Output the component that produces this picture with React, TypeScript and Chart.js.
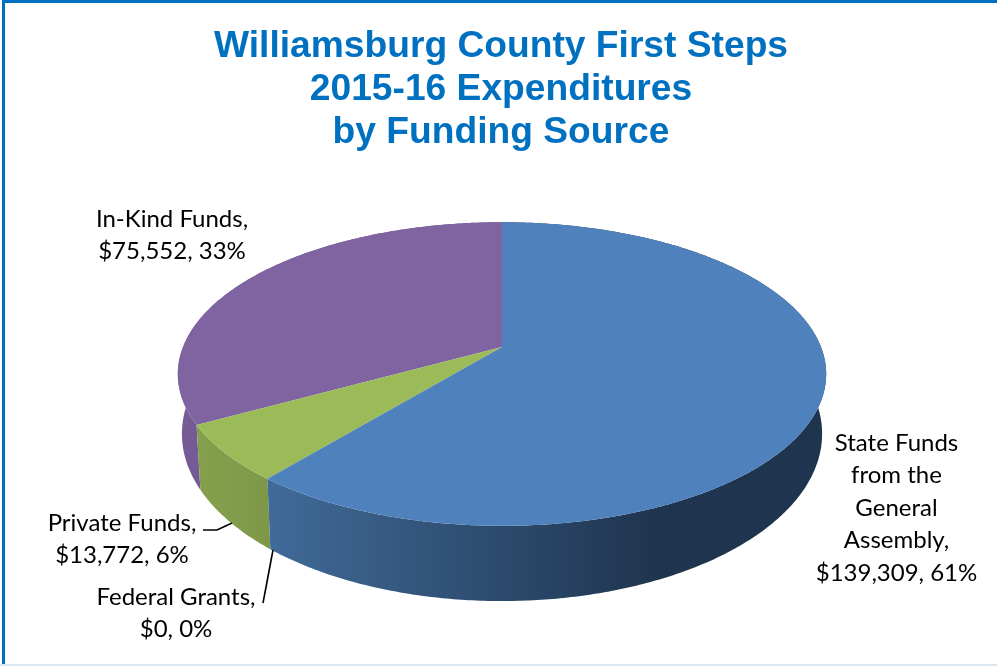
import React, { useEffect, useRef } from "react";
import { Chart, registerables } from "chart.js";

Chart.register(...registerables);

const categories = ["State Funds from the General Assembly", "Federal Grants", "Private Funds", "In-Kind Funds"];
const expenditures = [139309, 0, 13772, 75552];
const percentLabels = ["61%", "0%", "6%", "33%"];
const titleLines = ["Williamsburg County First Steps", "2015-16 Expenditures", "by Funding Source"];
const topColors = ["#4F81BD", "#7F7F7F", "#9BBB59", "#8064A2"];
const sideColorsLeft = ["#406A99", "#666666", "#86A24D", "#765C96"];
const sideColorsRight = ["#1F344E", "#555555", "#7D9748", "#6F5590"];

const money = (n: number) => "$" + n.toLocaleString("en-US");
const labelLines = [
  ["State Funds", "from the", "General", "Assembly,", `${money(expenditures[0])}, ${percentLabels[0]}`],
  ["Federal Grants,", `${money(expenditures[1])}, ${percentLabels[1]}`],
  ["Private Funds,", `${money(expenditures[2])}, ${percentLabels[2]}`],
  ["In-Kind Funds,", `${money(expenditures[3])}, ${percentLabels[3]}`],
];

const labelAnchors = [
  { x: 896.5, y: 443 },
  { x: 176, y: 597 },
  { x: 122, y: 523 },
  { x: 172, y: 219 },
];
const leaders: number[][][] = [
  [],
  [[263, 603], [273, 550]],
  [[203, 530], [217, 530], [232, 523]],
  [],
];

const CX = 502;
const P = 0.178;
const upper = { y0: 347, a: 319, b: 147 };
const lower = { y0: 404, a: 315, b: 162 };

function project(theta: number, f: { y0: number; a: number; b: number }) {
  const u = Math.cos(theta);
  const v = Math.sin(theta);
  const d = 1 - P * v;
  return [CX + (f.a * u) / d, f.y0 + (f.b * v) / d];
}

const pie3d = {
  id: "pie3d",
  beforeDraw(chart: any) {
    const { ctx, width, height } = chart;
    ctx.save();
    ctx.fillStyle = "#FFFFFF";
    ctx.fillRect(0, 0, width, height);
    ctx.fillStyle = "#DCE6F1";
    ctx.fillRect(0, height - 2, width, 2);
    ctx.fillStyle = "#0070C0";
    ctx.fillRect(2, 0, width - 2, 3);
    ctx.fillRect(2, 0, 3, height - 2);
    ctx.restore();
  },
  beforeDatasetsDraw(chart: any) {
    const { ctx } = chart;
    const arcs = chart.getDatasetMeta(0).data;
    const order = [3, 2, 1, 0];
    const stepsFor = (a: number, b: number) => Math.max(2, Math.ceil((b - a) / 0.01));

    ctx.save();
    // sides
    for (const i of order) {
      const { startAngle, endAngle } = arcs[i].getProps(["startAngle", "endAngle"], true);
      if (endAngle - startAngle < 1e-6) continue;
      const n = stepsFor(startAngle, endAngle);
      ctx.beginPath();
      for (let k = 0; k <= n; k++) {
        const [x, y] = project(startAngle + ((endAngle - startAngle) * k) / n, upper);
        if (k === 0) ctx.moveTo(x, y);
        else ctx.lineTo(x, y);
      }
      for (let k = n; k >= 0; k--) {
        const [x, y] = project(startAngle + ((endAngle - startAngle) * k) / n, lower);
        ctx.lineTo(x, y);
      }
      ctx.closePath();
      const g = ctx.createLinearGradient(i === 0 ? 270 : 185, 0, i === 0 ? 660 : 275, 0);
      g.addColorStop(0, sideColorsLeft[i]);
      g.addColorStop(1, sideColorsRight[i]);
      ctx.fillStyle = g;
      ctx.fill();
    }
    // top face
    for (const i of order) {
      const { startAngle, endAngle } = arcs[i].getProps(["startAngle", "endAngle"], true);
      if (endAngle - startAngle < 1e-6) continue;
      const n = stepsFor(startAngle, endAngle);
      ctx.beginPath();
      ctx.moveTo(CX, upper.y0);
      for (let k = 0; k <= n; k++) {
        const [x, y] = project(startAngle + ((endAngle - startAngle) * k) / n, upper);
        ctx.lineTo(x, y);
      }
      ctx.closePath();
      ctx.fillStyle = topColors[i];
      ctx.fill();
    }
    // leader lines
    ctx.strokeStyle = "#000000";
    ctx.lineWidth = 1.6;
    for (const pts of leaders) {
      if (!pts.length) continue;
      ctx.beginPath();
      pts.forEach(([x, y], k) => (k ? ctx.lineTo(x, y) : ctx.moveTo(x, y)));
      ctx.stroke();
    }
    // labels
    ctx.fillStyle = "#000000";
    ctx.font = '24px Lato, "Open Sans", sans-serif';
    ctx.textAlign = "center";
    ctx.textBaseline = "middle";
    labelLines.forEach((lines, i) => {
      lines.forEach((t, k) => ctx.fillText(t, labelAnchors[i].x, labelAnchors[i].y + k * 32.5));
    });
    ctx.restore();
    return false;
  },
};

export default function App() {
  const ref = useRef<HTMLCanvasElement>(null);
  useEffect(() => {
    document.body.style.margin = "0";
    const chart = new Chart(ref.current as HTMLCanvasElement, {
      type: "pie",
      data: {
        labels: categories,
        datasets: [{ data: expenditures, backgroundColor: topColors, borderWidth: 0 }],
      },
      options: {
        responsive: false,
        animation: false,
        devicePixelRatio: 1,
        layout: { padding: { left: 5 } },
        plugins: {
          legend: { display: false },
          tooltip: { enabled: false },
          title: {
            display: true,
            text: titleLines,
            color: "#0070C0",
            align: "center",
            font: { family: '"Liberation Sans", Arial, sans-serif', size: 37.2, weight: "bold", lineHeight: 43 / 37.2 },
            padding: { top: 25, bottom: 0 },
          },
        },
      },
      plugins: [pie3d],
    } as any);
    return () => chart.destroy();
  }, []);
  return <canvas ref={ref} width={997} height={666} style={{ display: "block" }} />;
}
